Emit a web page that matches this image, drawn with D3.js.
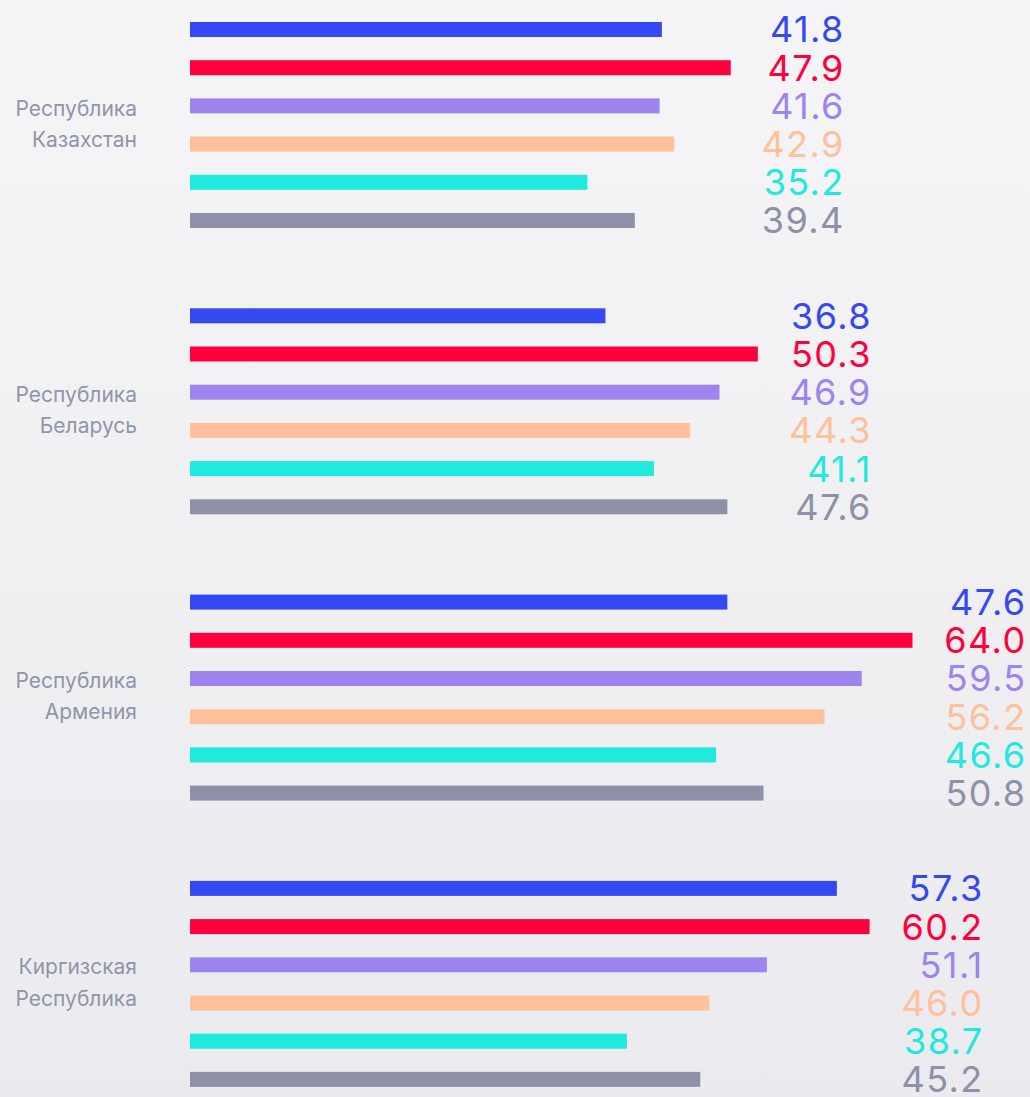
<!DOCTYPE html>
<html>
<head>
<meta charset="utf-8">
<script src="https://cdn.jsdelivr.net/npm/d3@7"></script>
<style>
  html, body { margin: 0; padding: 0; }
  body { width: 1030px; height: 1097px; overflow: hidden; }
  .cat-label { font-family: Inter, "Noto Sans", sans-serif; font-size: 21px; fill: #9095aa; }
  .value-label { font-family: Inter, "Noto Sans", sans-serif; font-size: 36px; letter-spacing: 1.4px; }
</style>
</head>
<body>
<div class="container"></div>
<script>
const categories = [
  ['Республика', 'Казахстан'],
  ['Республика', 'Беларусь'],
  ['Республика', 'Армения'],
  ['Киргизская', 'Республика']
]
const seriesKeys = ['s1', 's2', 's3', 's4', 's5', 's6']
const s1 = [41.8, 36.8, 47.6, 57.3]
const s2 = [47.9, 50.3, 64.0, 60.2]
const s3 = [41.6, 46.9, 59.5, 51.1]
const s4 = [42.9, 44.3, 56.2, 46.0]
const s5 = [35.2, 41.1, 46.6, 38.7]
const s6 = [39.4, 47.6, 50.8, 45.2]
const seriesColors = ['#3549f2', '#ff003d', '#9e84ee', '#ffc09c', '#20e9de', '#8e91a7']

const seriesValues = [s1, s2, s3, s4, s5, s6]

const width = 1030
const height = 1097

const svg = d3.select('.container').append('svg')
  .attr('width', width)
  .attr('height', height)

const defs = svg.append('defs')
const grad = defs.append('linearGradient').attr('id', 'bg')
  .attr('x1', 0).attr('y1', 0).attr('x2', 0).attr('y2', 1)
grad.append('stop').attr('offset', '0%').attr('stop-color', '#f5f5f7')
grad.append('stop').attr('offset', '100%').attr('stop-color', '#ebebef')

svg.append('rect').attr('width', width).attr('height', height).attr('fill', 'url(#bg)')

const groupIds = categories.map((c, i) => i)

const xScale = d3.scaleLinear().domain([0, 64]).range([190, 912.5])

const groupStep = 286.3
const groupTop = 10.4
const yGroup = d3.scaleBand()
  .domain(groupIds)
  .range([groupTop, groupTop + groupStep * groupIds.length])

const rowStep = 38.2
const yRow = d3.scaleBand()
  .domain(seriesKeys)
  .range([0, rowStep * seriesKeys.length])
  .paddingInner(0.607)
  .paddingOuter(0.3035)

const rows = []
groupIds.forEach(g => {
  seriesKeys.forEach((k, i) => {
    rows.push({ group: g, key: k, value: seriesValues[i][g], color: seriesColors[i] })
  })
})

const groups = svg.selectAll('g.group')
  .data(groupIds)
  .enter()
  .append('g')
  .attr('class', 'group')
  .attr('transform', g => `translate(0, ${ yGroup(g) })`)

groups.selectAll('rect')
  .data(g => rows.filter(r => r.group === g))
  .enter()
  .append('rect')
  .attr('x', xScale(0))
  .attr('y', d => yRow(d.key))
  .attr('width', d => xScale(d.value) - xScale(0))
  .attr('height', yRow.bandwidth())
  .attr('fill', d => d.color)

// value labels: right aligned column, placed after the longest bar of the group
const labelGap = 114
groups.selectAll('text.value-label')
  .data(g => rows.filter(r => r.group === g))
  .enter()
  .append('text')
  .attr('class', 'value-label')
  .attr('x', d => xScale(d3.max(seriesValues, s => s[d.group])) + labelGap)
  .attr('y', d => yRow(d.key) + yRow.bandwidth() / 2)
  .attr('dy', '0.36em')
  .attr('text-anchor', 'end')
  .attr('fill', d => d.color)
  .text(d => d.value.toFixed(1))

const catLabels = groups.append('text')
  .attr('class', 'cat-label')
  .attr('text-anchor', 'end')
  .attr('x', 137)
  .attr('y', rowStep * seriesKeys.length / 2)

catLabels.selectAll('tspan')
  .data(g => categories[g])
  .enter()
  .append('tspan')
  .attr('x', 137)
  .attr('dy', (d, i) => i === 0 ? '-0.45em' : '1.48em')
  .text(d => d)
</script>
</body>
</html>
